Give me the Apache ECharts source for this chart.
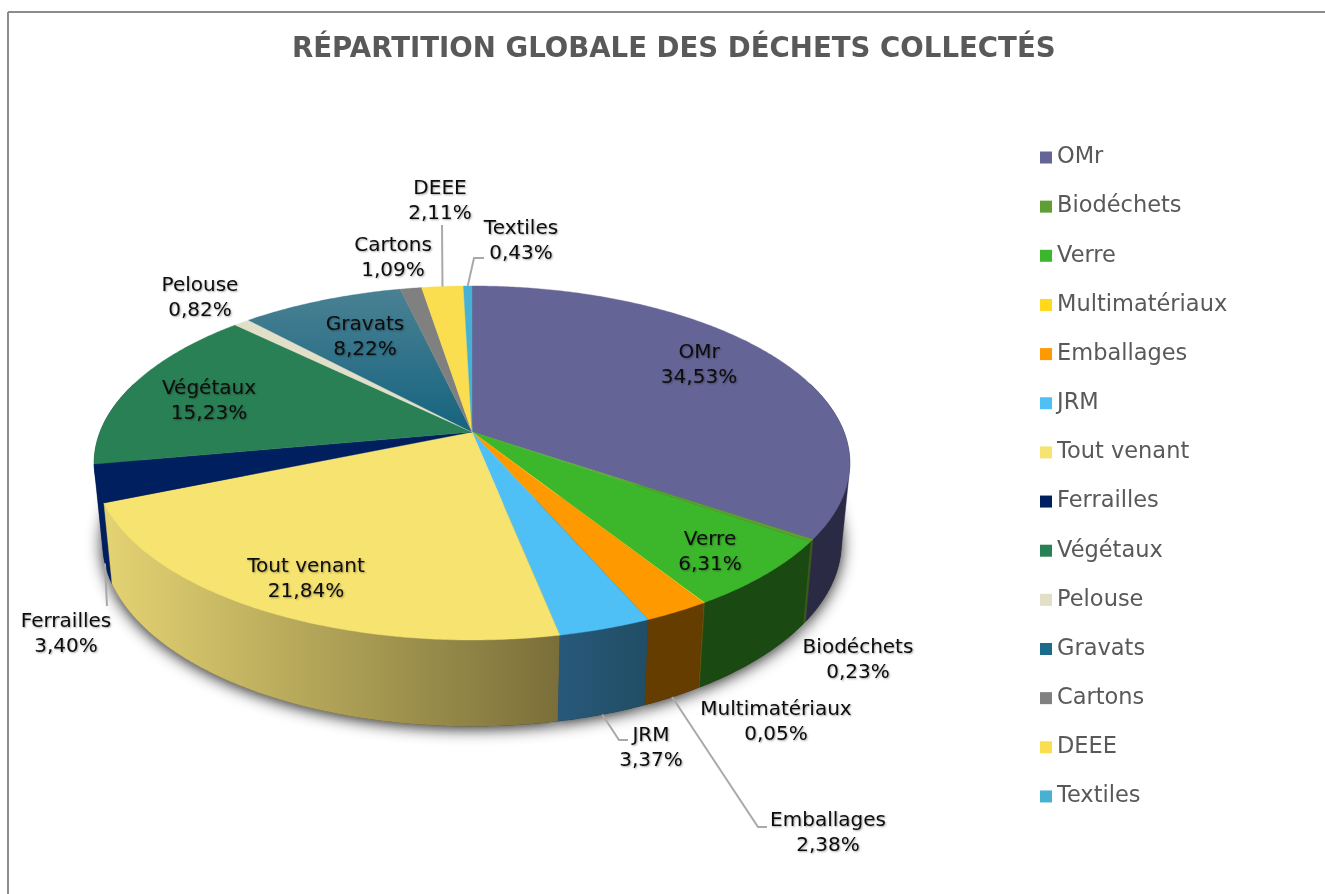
<!DOCTYPE html>
<html><head><meta charset="utf-8">
<style>html,body{margin:0;padding:0;background:#fff}#c{width:1325px;height:894px;filter:blur(0.4px)}</style>
<script src="https://cdn.jsdelivr.net/npm/echarts@6/dist/echarts.min.js"></script>
</head><body><div id="c"></div>
<script>
const categories = ['OMr','Biodéchets','Verre','Multimatériaux','Emballages','JRM','Tout venant','Ferrailles','Végétaux','Pelouse','Gravats','Cartons','DEEE','Textiles'];
const shares = [34.53,0.23,6.31,0.05,2.38,3.37,21.84,3.40,15.23,0.82,8.22,1.09,2.11,0.43];

const topColors = ['#646496','#5f9e35','#3cb72c','#ffd91a','#ff9900','#4fc0f5','#f6e370','#001f5f','#2a8055','#e2dfc8',
  {type:'linear',x:0,y:0,x2:0,y2:1,colorStops:[{offset:0,color:'#4a8193'},{offset:1,color:'#15637f'}]},'#808080','#fade4f','#46b1d2'];
const legendColors = ['#646496','#5f9e35','#3cb72c','#ffd91a','#ff9900','#4fc0f5','#f6e370','#001f5f','#2a8055','#e2dfc8','#1b6c88','#808080','#fade4f','#46b1d2'];
const wallColors = ['#2a2a45','#3a5a1a','#1a4a12','#6a5a10','#653d00',
  {type:'linear',x:558,y:0,x2:645,y2:0,global:true,colorStops:[{offset:0,color:'#28597a'},{offset:1,color:'#214e66'}]},
  {type:'linear',x:110,y:0,x2:558,y2:0,global:true,colorStops:[{offset:0,color:'#e3d272'},{offset:1,color:'#7a6f3a'}]},
  '#001f5f','#1a4a30','#8a8878','#123f50','#4a4a4a','#7a6d25','#235a6a'];

// label layout: centre of each two-line label
const labelCenters = [[699,365],[858,660],[710,552],[776,722],[828,833],[651,748],[306,579],[66,634],[209,401],[200,298],[365,337],[393,258],[440,201],[521,241]];
// leader line layout: which rim it starts from, then its remaining vertices
const leaders = {
  'Emballages':{rim:'bottom',via:[[758,827],[767,827]]},
  'JRM':{rim:'bottom',via:[[619,740],[628,740]]},
  'Ferrailles':{rim:'bottom',via:[[107,606]]},
  'DEEE':{rim:'top',via:[[442,225]]},
  'Textiles':{rim:'top',via:[[474,258],[484,258]]}
};

// projection of the tilted disc
const apexX=472, apexY=432, A=372, B=171.6, K=0.175, depth=78, shrinkX=0.978, stretchY=1.04;
const total = shares.reduce((a,b)=>a+b,0);
const DEG = Math.PI/180;
function topRim(t){const u=Math.sin(t),v=-Math.cos(t),d=1-K*v;return [apexX+A*u/d, apexY+B*v/d];}
function botRim(t){const p=topRim(t);return [apexX+shrinkX*(p[0]-apexX), apexY+depth+stretchY*(p[1]-apexY)];}
const isFront=t=>-Math.cos(t)>-0.3;
function sweep(t0,t1,fn){const n=Math.max(2,Math.ceil((t1-t0)/(0.5*DEG)));const pts=[];for(let i=0;i<=n;i++)pts.push(fn(t0+(t1-t0)*i/n));return pts;}
function hull(points){
  const p=points.slice().sort((a,b)=>a[0]-b[0]||a[1]-b[1]);
  const cross=(o,a,b)=>(a[0]-o[0])*(b[1]-o[1])-(a[1]-o[1])*(b[0]-o[0]);
  const lo=[],up=[];
  for(const q of p){while(lo.length>1&&cross(lo[lo.length-2],lo[lo.length-1],q)<=0)lo.pop();lo.push(q);}
  for(const q of p.slice().reverse()){while(up.length>1&&cross(up[up.length-2],up[up.length-1],q)<=0)up.pop();up.push(q);}
  return lo.slice(0,-1).concat(up.slice(0,-1));
}

const starts=[];let acc=0;shares.forEach(v=>{starts.push(acc);acc+=v;});
const labelFont='20px "DejaVu Sans"';

function makeRender(idx){
  return function(params,api){
    const value=api.value(0);
    const t0=starts[idx]/total*2*Math.PI, t1=t0+value/total*2*Math.PI, mid=(t0+t1)/2;
    const children=[];
    const steps=sweep(t0,t1,t=>t).filter(isFront);
    if(steps.length>1){
      const bottomEdge=steps.map(botRim);
      const wall=hull(steps.map(topRim).concat(bottomEdge));
      children.push({type:'polygon',z2:0,shape:{points:[[apexX,apexY+depth]].concat(bottomEdge)},
        style:{fill:'#222',shadowBlur:16,shadowColor:'rgba(0,0,0,0.9)',shadowOffsetX:0,shadowOffsetY:2}});
      // walls nearer the viewer paint over walls further back
      const z=1.5+0.4*(-Math.cos(mid));
      children.push({type:'polygon',z2:z,shape:{points:wall},style:{fill:wallColors[idx],stroke:wallColors[idx],lineWidth:0.4}});
    }
    const face=[[apexX,apexY]].concat(sweep(t0,t1,topRim));
    const faceStroke=typeof topColors[idx]==='string'?topColors[idx]:legendColors[idx];
    children.push({type:'polygon',z2:3,shape:{points:face},style:{fill:topColors[idx],stroke:faceStroke,lineWidth:0.4}});
    const leader=leaders[categories[idx]];
    if(leader){
      const a=leader.rim==='bottom'?botRim(mid):topRim(mid);
      children.push({type:'polyline',z2:4,shape:{points:[a].concat(leader.via)},style:{fill:null,stroke:'#a9a9a9',lineWidth:2}});
    }
    const c=labelCenters[idx];
    children.push({type:'text',z2:5,x:c[0],y:c[1],style:{
      text:categories[idx]+'\n'+value.toFixed(2).replace('.',',')+'%',
      font:labelFont,fill:'#0d0d0d',align:'center',verticalAlign:'middle',lineHeight:25,
      textShadowColor:'rgba(0,0,0,0.35)',textShadowBlur:2,textShadowOffsetX:1,textShadowOffsetY:1}});
    return {type:'group',children};
  };
}

const chart=echarts.init(document.getElementById('c'),null,{renderer:'canvas'});
chart.setOption({
  animation:false,
  backgroundColor:'#ffffff',
  title:{text:'RÉPARTITION GLOBALE DES DÉCHETS COLLECTÉS',left:287,top:31,
    textStyle:{fontFamily:'DejaVu Sans',fontWeight:'bold',fontSize:27.6,color:'#595959'}},
  legend:{orient:'vertical',left:1040,top:146,padding:0,data:categories,icon:'rect',itemWidth:12,itemHeight:12,itemGap:26.15,
    selectedMode:false,textStyle:{fontFamily:'DejaVu Sans',fontSize:22.5,lineHeight:22,color:'#595959'}},
  graphic:[
    {type:'line',shape:{x1:8,y1:12,x2:1325,y2:12},style:{stroke:'#8c8c8c',lineWidth:2}},
    {type:'line',shape:{x1:8,y1:12,x2:8,y2:894},style:{stroke:'#8c8c8c',lineWidth:2}}
  ],
  series:categories.map((name,i)=>({
    type:'custom',name,coordinateSystem:'none',silent:true,
    itemStyle:{color:legendColors[i]},
    data:[[shares[i]]],
    renderItem:makeRender(i)
  }))
});
</script></body></html>
